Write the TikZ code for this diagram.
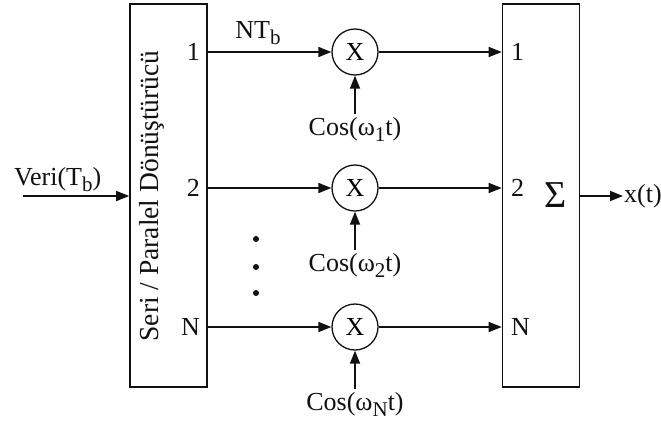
\documentclass[tikz,border=0pt]{standalone}
\usepackage{fontspec}
\setmainfont{Liberation Serif}
\usetikzlibrary{arrows.meta,positioning,calc}
\usepackage{xcolor}
\definecolor{Ink}{HTML}{111111}
\newcommand{\Yazi}{\fontsize{26}{30}\selectfont}
\newcommand{\Alt}[1]{\raisebox{-6pt}{\fontsize{21}{24}\selectfont #1}}

\begin{document}
\begin{tikzpicture}[x=1pt,y=-1pt,
  kutu/.style={draw=Ink,line width=1.6pt,minimum width=77pt,minimum height=383pt,inner sep=0pt},
  carp/.style={draw=Ink,circle,line width=1.3pt,minimum size=46pt,inner sep=0pt,font=\Yazi},
  etk/.style={font=\Yazi,text=Ink,inner sep=0pt},
  ok/.style={draw=Ink,line width=1.6pt,-{Triangle[length=13pt,width=10pt]}}]
\useasboundingbox (0,0) rectangle (661,421);
% bloklar
\node[kutu] (sp) at (168.5,195.5) {};
\node[kutu] (top) at (541,195.5) {};
\node[etk,rotate=90,font=\fontsize{27.5}{30}\selectfont] (spad) at (152,196) {Seri / Paralel Dönüştürücü};
\node[etk,font=\fontsize{38}{40}\selectfont] (sig) at (556,195) {Σ};
% giris ve cikis
\coordinate (gir) at (23,196);
\node[etk,anchor=base west] (veri) at (14,185) {Veri(T\Alt{b})};
\draw[ok] (gir) -- (gir -| sp.west);
\coordinate (cik) at (623,196);
\draw[ok] (cik -| top.east) -- (cik);
\node[etk,anchor=west] (xt) at (624,196) {x(t)};
\node[etk,anchor=base] (ntb) at (258,38) {NT\Alt{b}};
% kollar
\foreach \k/\y in {1/52,2/188,N/327} {
  \node[etk,anchor=east] (sp\k) at (200,\y) {\k};
  \node[etk,anchor=west] (top\k) at (511,\y) {\k};
  \node[carp] (c\k) at (355,\y) {X};
  \node[etk,anchor=base] (cos\k) at (355,\y+83) {Cos(ω\Alt{\k}t)};
  \draw[ok] ($(cos\k.north)+(0,-3)$) -- (c\k);
}
\foreach \k in {1,2,N} {
  \draw[ok] (sp.east |- c\k) -- (c\k);
  \draw[ok] (c\k) -- (top.west |- c\k);
}
% noktalar
\foreach \y in {239,267,293}
  \fill[Ink] (256,\y) circle (3pt);
\end{tikzpicture}
\end{document}
